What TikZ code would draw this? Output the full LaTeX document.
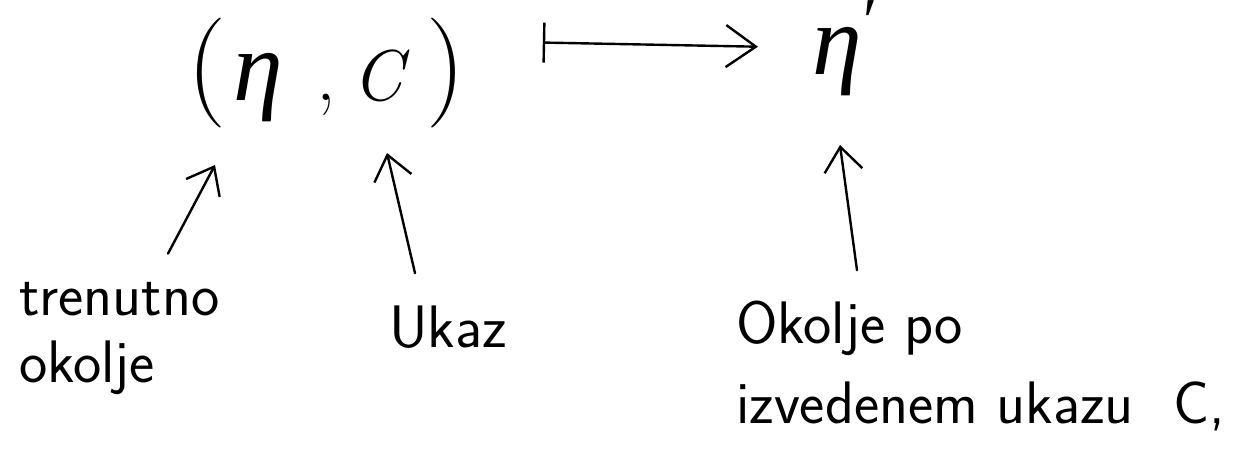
\documentclass[tikz,border=0pt]{standalone}
\usepackage{fontspec}
\newfontfamily\grk{Liberation Serif}
\usetikzlibrary{arrows.meta}
\begin{document}
\begin{tikzpicture}[x=1pt, y=-1pt, line width=2.4pt, line cap=round, line join=round,
  hand/.style={font=\fontsize{60}{67}\selectfont\sffamily, inner sep=0pt, align=left},
  pointer/.style={-{Straight Barb[length=24pt,width=38pt,line width=2.4pt]}},
  mapsto/.style={{Bar[width=40pt,line width=2.4pt]}-{Straight Barb[length=30pt,width=42pt,line width=2.4pt]}},
]
\fill[white] (0,0) rectangle (1250,461);
\useasboundingbox (0,0) rectangle (1250,461);

% the pair (eta, C) and its image eta'
\node[anchor=base west, inner sep=0pt] (src) at (186,100)
  {\fontsize{110}{110}\selectfont(\hspace{7pt}{\grk\itshape\fontsize{100}{100}\selectfont η}\hspace{34pt}{\fontsize{78}{78}\selectfont,}\hspace{16pt}{\fontsize{72}{72}\selectfont\itshape C}\hspace{24pt})};
\node[anchor=base west, inner sep=0pt] (dst) at (811,74)
  {{\grk\itshape\fontsize{100}{100}\selectfont η}\hspace{2pt}\raisebox{32pt}{\grk\fontsize{64}{64}\selectfont ′}};

\draw[mapsto] ([xshift=76pt,yshift=30pt]src.east) -- ([xshift=-53pt,yshift=1pt]dst.west);

% labels underneath
\node[hand, anchor=base west] (now) at (18,382) {trenutno\\okolje};
\node[hand, anchor=base west] (cmd) at (388,347) {Ukaz};
\node[hand, anchor=base west, font=\fontsize{60}{80}\selectfont\sffamily] (after) at (735,423)
  {Okolje po\\izvedenem ukazu\hspace{40pt}C,};

% pointers from the labels up to the symbols
\coordinate (etaPt) at (215,165);
\coordinate (cPt) at (387,153);
\coordinate (etaPrimePt) at (840,145);
\draw[pointer] ([xshift=150pt,yshift=27pt]now.north west) -- (etaPt);
\draw[pointer] ([xshift=27pt,yshift=31pt]cmd.north west) -- (cPt);
\draw[pointer] ([xshift=122pt,yshift=29pt]after.north west) -- (etaPrimePt);
\end{tikzpicture}
\end{document}
